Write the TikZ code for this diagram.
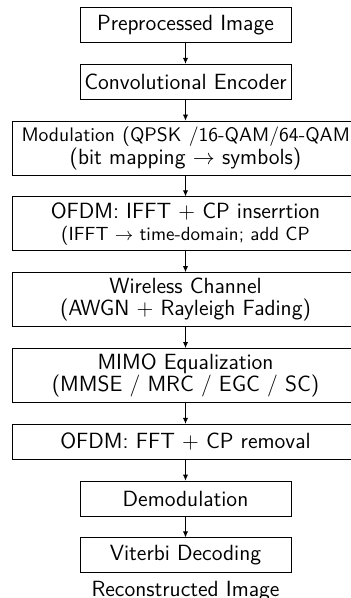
\documentclass[tikz,border=0pt]{standalone}
\usetikzlibrary{arrows.meta, positioning}
\tikzset{box/.style={rectangle,draw,align=center,inner sep=2pt,minimum width=105.5pt,minimum height=17.5pt,font=\sffamily\fontsize{11}{11}\selectfont},wide/.style={box,minimum width=173pt},tall/.style={wide,minimum height=27pt},line/.style={-{Latex[length=3pt,width=2.6pt]}}}

\begin{document}
\begin{tikzpicture}[node distance=10.5pt]
\useasboundingbox (0,0) rectangle (175pt,-299pt);
\node[box, anchor=north] (pre) at (92.75pt,-3.5pt) {Preprocessed Image};
\node[box, below=of pre] (enc) {Convolutional Encoder};
\node[tall, below=of enc, text width=164pt] (mod) {\mbox{\fontsize{9.8}{11}\selectfont Modulation (QPSK /16-QAM/64-QAM}\\[0.5pt](bit mapping $\rightarrow$ symbols)};
\node[tall, below=of mod] (ifft) {OFDM: IFFT + CP inserrtion\\{\fontsize{9.5}{11}\selectfont (IFFT $\rightarrow$ time-domain; add CP}};
\node[tall, below=of ifft] (chan) {Wireless Channel\\(AWGN + Rayleigh Fading)};
\node[tall, below=of chan] (mimo) {MIMO Equalization\\(MMSE / MRC / EGC / SC)};
\node[wide, below=of mimo] (fft) {OFDM: FFT + CP removal};
\node[box, below=of fft] (dem) {Demodulation};
\node[box, below=of dem] (vit) {Viterbi Decoding};
\node[font=\sffamily\fontsize{11}{11}\selectfont, inner sep=0pt, anchor=base] (rec) at ([yshift=-11.5pt]vit.south) {Reconstructed Image};
\draw[line] (pre) -- (enc);
\draw[line] (enc) -- (mod);
\draw[line] (mod) -- (ifft);
\draw[line] (ifft) -- (chan);
\draw[line] (chan) -- (mimo);
\draw[line] (mimo) -- (fft);
\draw[line] (fft) -- (dem);
\draw[line] (dem) -- (vit);
\end{tikzpicture}
\end{document}
